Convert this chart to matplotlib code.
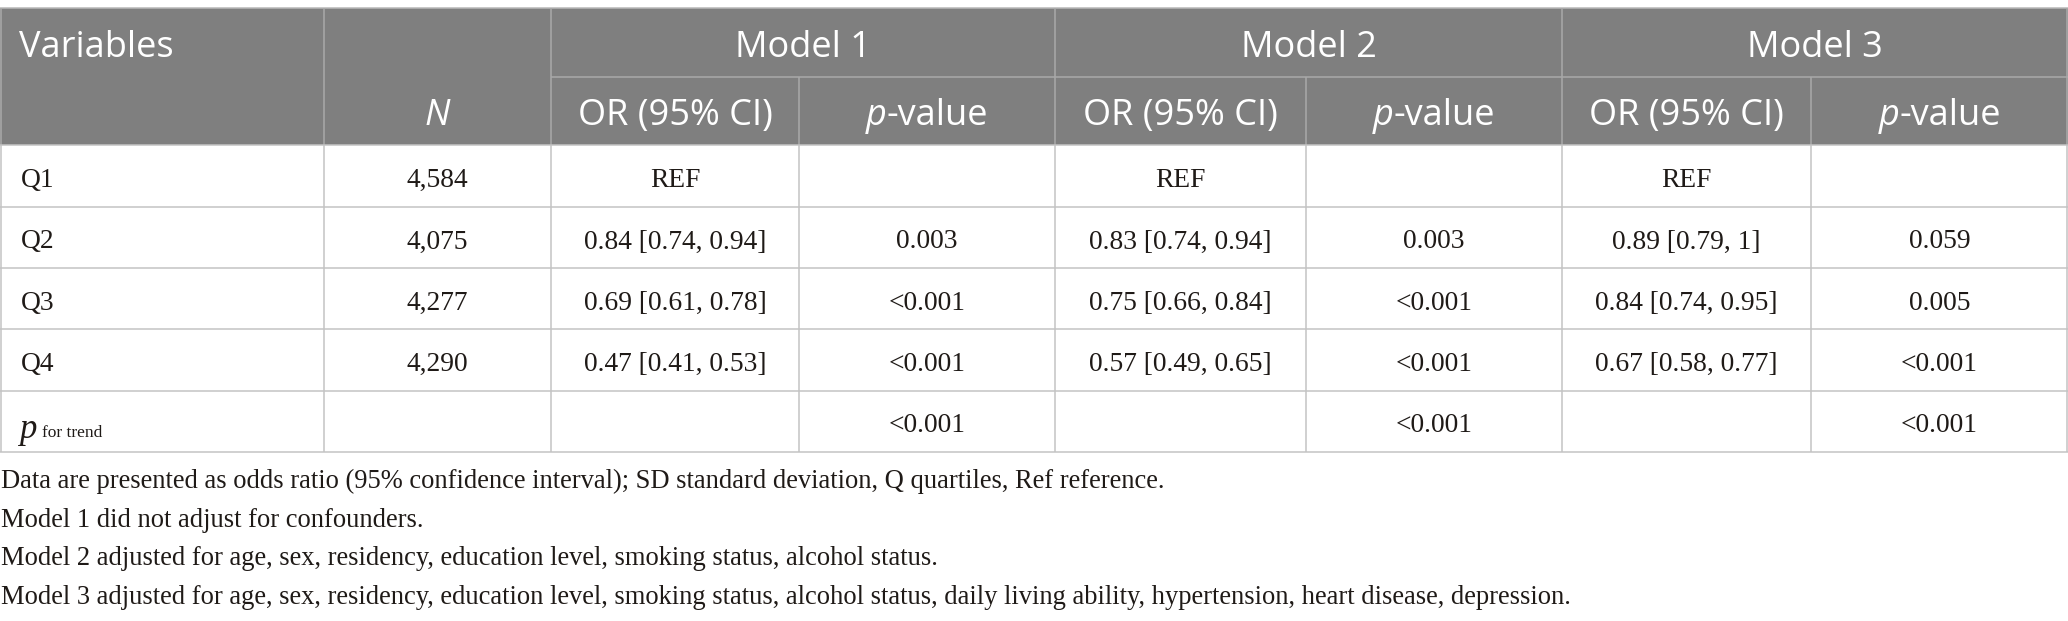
import matplotlib
matplotlib.use("Agg")
import matplotlib.pyplot as plt

W, H = 2068, 621

# ---------------- data ----------------
model_names = ["Model 1", "Model 2", "Model 3"]
sub_headers = ["OR (95% CI)", "p-value"]
variables = ["Q1", "Q2", "Q3", "Q4"]
n_values = ["4,584", "4,075", "4,277", "4,290"]
model1_or = ["REF", "0.84 [0.74, 0.94]", "0.69 [0.61, 0.78]", "0.47 [0.41, 0.53]"]
model1_p = ["", "0.003", "<0.001", "<0.001"]
model2_or = ["REF", "0.83 [0.74, 0.94]", "0.75 [0.66, 0.84]", "0.57 [0.49, 0.65]"]
model2_p = ["", "0.003", "<0.001", "<0.001"]
model3_or = ["REF", "0.89 [0.79, 1]", "0.84 [0.74, 0.95]", "0.67 [0.58, 0.77]"]
model3_p = ["", "0.059", "0.005", "<0.001"]
trend_p = ["<0.001", "<0.001", "<0.001"]
footnotes = [
    "Data are presented as odds ratio (95% confidence interval); SD standard deviation, Q quartiles, Ref reference.",
    "Model 1 did not adjust for confounders.",
    "Model 2 adjusted for age, sex, residency, education level, smoking status, alcohol status.",
    "Model 3 adjusted for age, sex, residency, education level, smoking status, alcohol status, daily living ability, hypertension, heart disease, depression.",
]

# ---------------- layout ----------------
col_edges = [0, 324, 551, 799, 1055, 1306, 1562, 1811, 2068]
head_edges = [8, 77, 145]
body_edges = [145, 207, 268, 329, 391, 452]
foot_baselines = [488, 527, 565, 604]

HEAD_BG = "#7f7f7f"
HEAD_LINE = "#a9a9a9"
BODY_LINE = "#c3c3c3"
TXT = "#1f1a17"

HFONT = dict(family="Open Sans", size=26, color="white")
BFONT = dict(family="Liberation Serif", size=19.8, color=TXT)
FFONT = dict(family="Liberation Serif", size=19.1, color=TXT)

fig = plt.figure(figsize=(W / 100, H / 100), dpi=100)
ax = fig.add_axes([0, 0, 1, 1])
ax.set_xlim(0, W)
ax.set_ylim(H, 0)
ax.axis("off")
renderer = fig.canvas.get_renderer()

LW = 1.1


def rich(pieces, x, y, ha="center"):
    texts, widths = [], []
    for s, kw in pieces:
        t = ax.text(0, y, s, va="baseline", ha="left", **kw)
        texts.append(t)
        widths.append(t.get_window_extent(renderer).width)
    total = sum(widths)
    start = x - total / 2 if ha == "center" else x
    for t, w in zip(texts, widths):
        t.set_x(start)
        start += w


# header background
ax.add_patch(plt.Rectangle((0, head_edges[0]), W, head_edges[2] - head_edges[0],
                           facecolor=HEAD_BG, edgecolor="none", zorder=0))

# header lines
ax.hlines(head_edges[0], 0, W, color="#b8b8b8", lw=LW)
ax.hlines(head_edges[1], col_edges[2], W, color=HEAD_LINE, lw=LW)
for i, x in enumerate(col_edges[1:-1], start=1):
    if i in (1, 2, 4, 6):
        ax.vlines(x, head_edges[0], head_edges[2], color=HEAD_LINE, lw=LW)
    else:
        ax.vlines(x, head_edges[1], head_edges[2], color=HEAD_LINE, lw=LW)
ax.vlines(0.7, head_edges[0], head_edges[2], color=HEAD_LINE, lw=LW)
ax.vlines(W - 0.7, head_edges[0], head_edges[2], color=HEAD_LINE, lw=LW)

# body lines
for y in body_edges:
    ax.hlines(y, 0, W, color=BODY_LINE, lw=LW)
for x in col_edges[1:-1]:
    ax.vlines(x, body_edges[0], body_edges[-1], color=BODY_LINE, lw=LW)
ax.vlines(0.7, body_edges[0], body_edges[-1], color=BODY_LINE, lw=LW)
ax.vlines(W - 0.7, body_edges[0], body_edges[-1], color=BODY_LINE, lw=LW)

# header text
hb1 = head_edges[0] + 49
hb2 = head_edges[1] + 48
ax.text(19, hb1, "Variables", va="baseline", ha="left", **HFONT)
ax.text((col_edges[1] + col_edges[2]) / 2, hb2, "N", va="baseline", ha="center",
        style="italic", **HFONT)
for m, name in enumerate(model_names):
    c0 = col_edges[2 + 2 * m]
    c1 = col_edges[3 + 2 * m]
    c2 = col_edges[4 + 2 * m]
    ax.text((c0 + c2) / 2, hb1, name, va="baseline", ha="center", **HFONT)
    ax.text((c0 + c1) / 2, hb2, sub_headers[0], va="baseline", ha="center", **HFONT)
    rich([("p", dict(style="italic", **HFONT)), ("-value", HFONT)], (c1 + c2) / 2, hb2)

# body text
cols_data = [n_values, model1_or, model1_p, model2_or, model2_p, model3_or, model3_p]
for r, var in enumerate(variables):
    yb = (body_edges[r] + body_edges[r + 1]) / 2 + 11
    ax.text(21, yb, var, va="baseline", ha="left", **BFONT)
    for c, col in enumerate(cols_data):
        xc = (col_edges[c + 1] + col_edges[c + 2]) / 2
        if col[r]:
            ax.text(xc, yb, col[r], va="baseline", ha="center", **BFONT)

# p for trend row
yt = body_edges[4]
ytb = yt + 47
ax.text(19, ytb, "p", va="baseline", ha="left", style="italic",
        family="Liberation Serif", size=25, color=TXT)
ax.text(42, ytb - 1, "for trend", va="baseline", ha="left",
        family="Liberation Serif", size=12.5, color=TXT)
yb = (body_edges[4] + body_edges[5]) / 2 + 11
for m, pv in enumerate(trend_p):
    c1 = col_edges[3 + 2 * m]
    c2 = col_edges[4 + 2 * m]
    ax.text((c1 + c2) / 2, yb, pv, va="baseline", ha="center", **BFONT)

# footnotes
for s, yb in zip(footnotes, foot_baselines):
    ax.text(1, yb, s, va="baseline", ha="left", **FFONT)

fig.savefig("out.png", dpi=100)
